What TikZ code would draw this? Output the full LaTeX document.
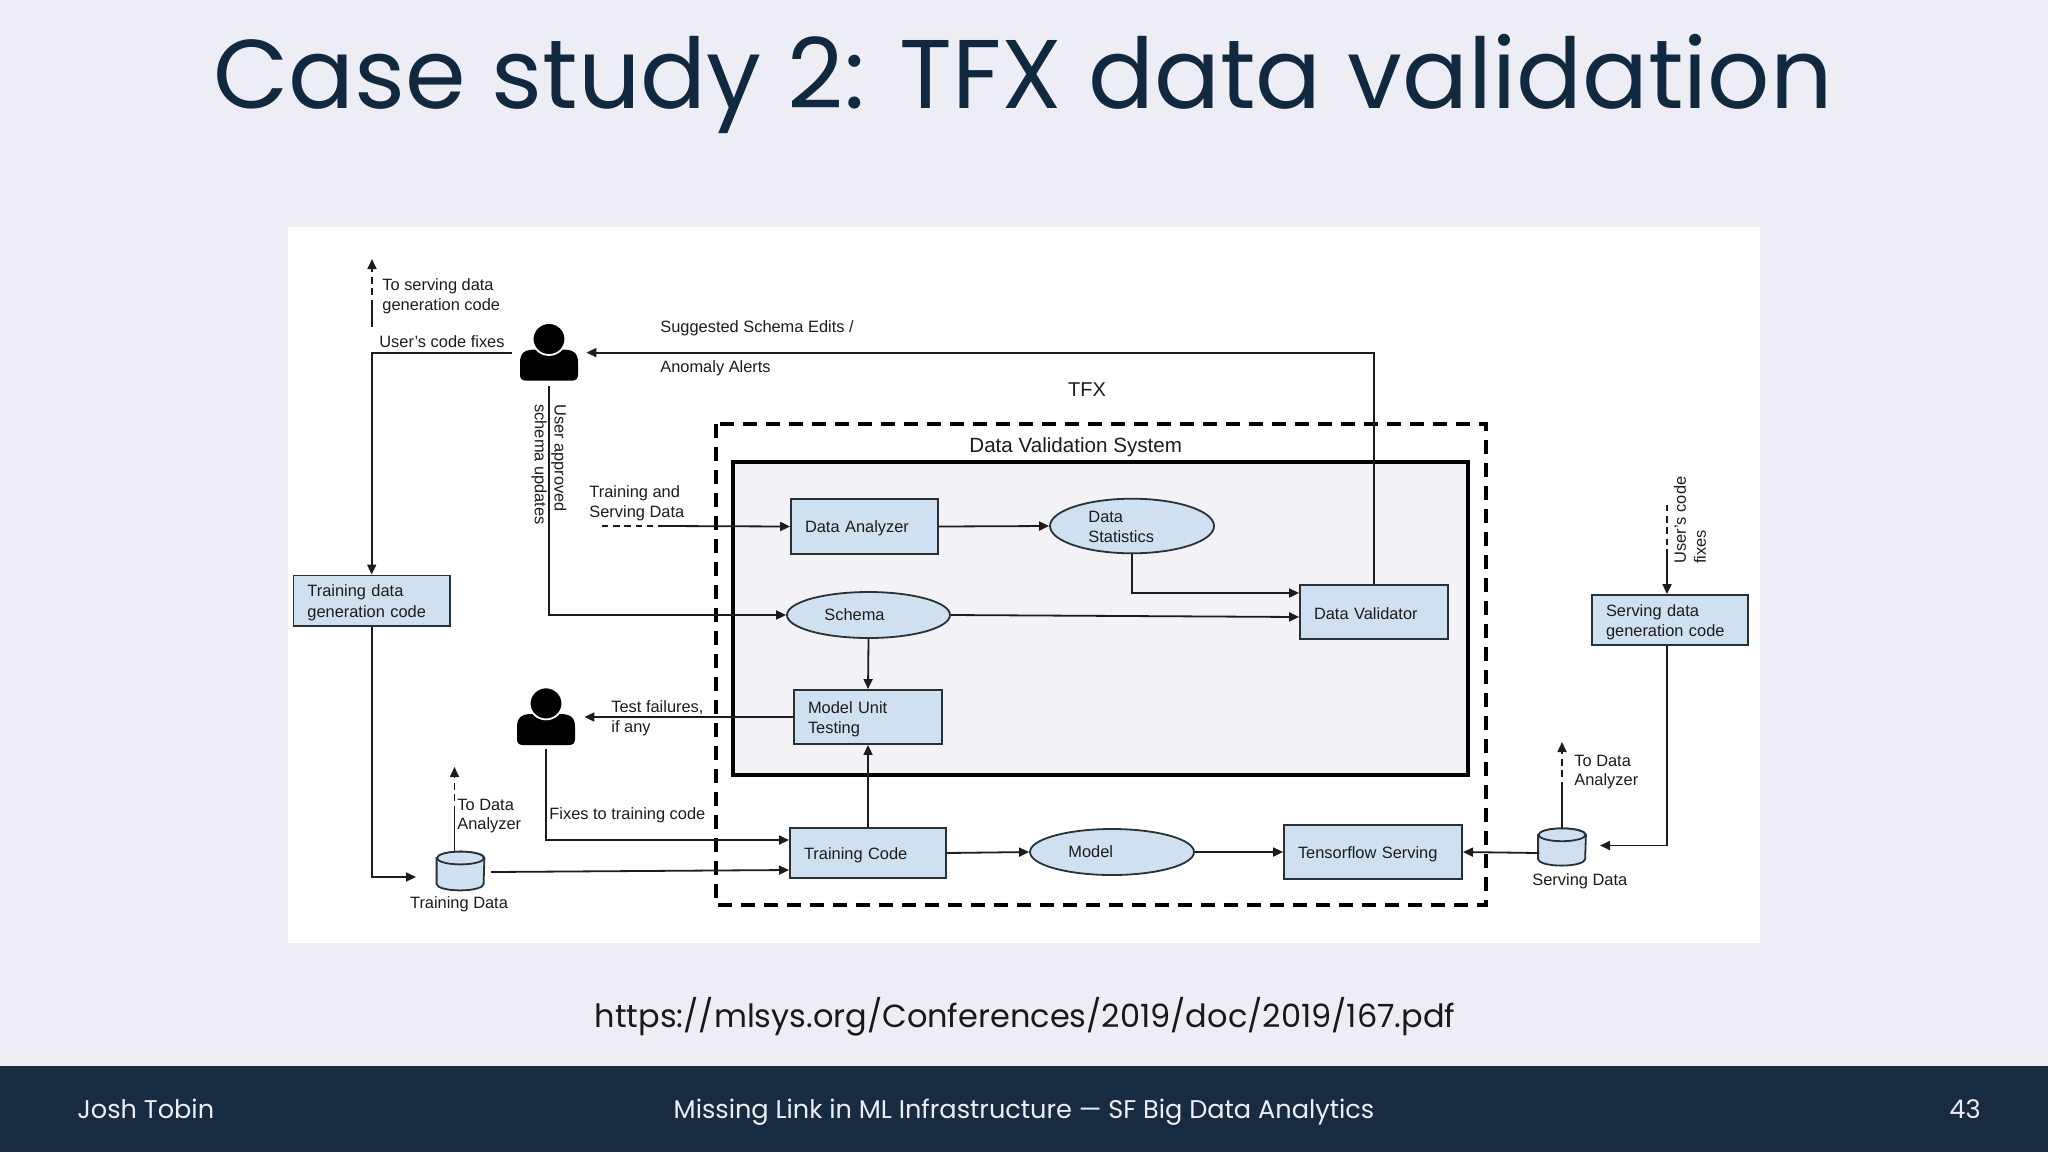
\documentclass[tikz,border=0pt]{standalone}
\usepackage{fontspec}
\setmainfont{Liberation Sans}
\newfontfamily\pop{Poppins}
\usetikzlibrary{arrows.meta,shapes.geometric}
\definecolor{slidebg}{HTML}{EDEEF5}
\definecolor{footbg}{HTML}{172B41}
\definecolor{titlec}{HTML}{10293F}
\definecolor{boxblue}{HTML}{CFE0F0}
\definecolor{edgec}{HTML}{263238}
\definecolor{inner}{HTML}{F3F2F6}
\definecolor{ink}{HTML}{1C1C1C}
\tikzset{
  x=0.5pt,y=-0.5pt,
  lab/.style={inner sep=0pt,anchor=west,align=left,text=ink,font=\fontsize{8.2}{9.9}\selectfont},
  box/.style n args={2}{draw=edgec,line width=.9pt,fill=boxblue,inner xsep=7pt,inner ysep=0pt,text=ink,
    align=left,text width=#1pt-14pt,minimum height=#2pt,font=\fontsize{8.2}{10.3}\selectfont,
    execute at begin node={\rule{0pt}{8pt}}},
  oval/.style n args={2}{ellipse,draw=edgec,line width=.9pt,fill=boxblue,inner sep=0pt,minimum width=#1pt,minimum height=#2pt},
  hold/.style n args={2}{inner sep=0pt,minimum width=#1pt,minimum height=#2pt},
  conn/.style={draw=ink,line width=.9pt},
  arr/.style={conn,-{Triangle[length=5pt,width=4.5pt]}},
  dsh/.style={dash pattern=on 3.2pt off 2.4pt},
  cylin/.style={draw=edgec,line width=.9pt,fill=boxblue},
}
\newcommand{\persona}[1]{%
  \begin{scope}[shift={(#1.center)}]
    \fill[black] (-23,28) .. controls (-27,28) and (-29,26) .. (-29,22) -- (-29,10)
      .. controls (-29,0) and (-24,-3) .. (-14,-3) -- (14,-3)
      .. controls (24,-3) and (29,0) .. (29,10) -- (29,22)
      .. controls (29,26) and (27,28) .. (23,28) -- cycle;
    \draw[white,line width=.9pt,fill=black] (0,-13.6) ellipse[x radius=8.2pt,y radius=8pt];
  \end{scope}}
\newcommand{\cylinderat}[2]{%
  \draw[cylin] ([yshift=-3.2pt]#1.north west) -- ([yshift=3.2pt]#1.south west)
    arc[start angle=180,end angle=360,x radius=#2pt,y radius=3.2pt]
    -- ([yshift=-3.2pt]#1.north east)
    arc[start angle=0,end angle=180,x radius=#2pt,y radius=3.2pt] -- cycle;
  \draw[cylin] ([yshift=-3.2pt]#1.north) ellipse[x radius=#2pt,y radius=3.2pt];}
\begin{document}
\begin{tikzpicture}
\useasboundingbox (0,0) rectangle (2048,1152);
\fill[slidebg] (0,0) rectangle (2048,1152);
\fill[footbg] (0,1066) rectangle (2048,1152);
\fill[white!99!slidebg] (288,227) rectangle (1760,943);
% slide text
\node[inner sep=0pt,text=titlec,font=\pop\fontsize{48.8}{58}\selectfont] (title) at (1023,84) {Case study 2: TFX data validation};
\node[inner sep=0pt,text=black!90,font=\pop\fontsize{16}{20}\selectfont] (url) at (1025,1017) {https://mlsys.org/Conferences/2019/doc/2019/167.pdf};
\node[inner sep=0pt,anchor=west,text=slidebg,font=\pop\fontsize{12.8}{16}\selectfont] (fl) at (77,1109) {Josh Tobin};
\node[inner sep=0pt,text=slidebg,font=\pop\fontsize{12.8}{16}\selectfont] (fc) at (1024,1112) {Missing Link in ML Infrastructure — SF Big Data Analytics};
\node[inner sep=0pt,anchor=east,text=slidebg,font=\pop\fontsize{12.8}{16}\selectfont] (fr) at (1981,1109) {43};
% system frames
\draw[fill=inner,draw=black,line width=2pt] (733,462) rectangle (1468,775);
\draw[black,line width=1.8pt,dash pattern=on 7pt off 4.5pt] (716,424) rectangle (1486,905);
% boxes
\node[box={78.3}{25.1}] (tdg) at (371.7,600.5) {Training data\\generation code};
\node[box={73.5}{27.5}] (da) at (864.5,526.5) {Data Analyzer};
\node[box={74}{27}] (dv) at (1374,612) {Data Validator};
\node[box={74}{27}] (mut) at (868,717) {Model Unit\\Testing};
\node[box={78}{25}] (tc) at (868,853) {Training Code};
\node[box={89}{27}] (ts) at (1373,852) {Tensorflow Serving};
\node[box={78}{25}] (sdg) at (1670,620) {Serving data\\generation code};
% ellipses
\node[oval={81.5}{23}] (sch) at (868.5,615) {};
\node[oval={82}{27.3}] (stat) at (1132,526) {};
\node[oval={82}{23}] (mod) at (1112,852) {};
\node[lab] (lsch) at (824,615) {Schema};
\node[lab] (lstat) at (1088,527) {Data\\Statistics};
\node[lab] (lmod) at (1068,852) {Model};
% people
\node[hold={37}{33.4}] (u1) at (549,352.6) {};
\node[hold={38}{32}] (u2) at (546,717) {};
\persona{u1}
\persona{u2}
% data stores
\node[hold={23.5}{19}] (tdb) at (460.5,871) {};
\node[hold={23.5}{18.2}] (sdb) at (1562,847) {};
\cylinderat{tdb}{11.75}
\cylinderat{sdb}{11.75}
% free ends
\coordinate (a1) at (372,327);
\coordinate (a2) at (372,306);
\coordinate (a3) at (372,259);
\coordinate (b1) at (602,526);
\coordinate (b2) at (664,526);
\coordinate (c1) at (416,877);
\coordinate (c2) at (491,872);
\coordinate (c3) at (789,870);
\coordinate (c4) at (789,840);
\coordinate (d1) at (454.5,812);
\coordinate (d2) at (454.5,767);
\coordinate (d3) at (454.5,852);
\coordinate (e1) at (1562,788);
\coordinate (e2) at (1562,742);
\coordinate (f1) at (1667,505);
\coordinate (f2) at (1667,549);
\coordinate (g1) at (1600,845.5);
\coordinate (g2) at (1539,853);
\coordinate (g3) at (1463,852);
% connectors
\draw[arr] (dv.north) |- (u1.east);
\draw[arr] (u1.west) -| (tdg.north);
\draw[conn] (a1) -- (a2);
\draw[arr,dsh] (a2) -- (a3);
\draw[arr] (u1.south) |- (sch.west);
\draw[arr] (tdg.south) |- (c1);
\draw[conn,dsh] (b1) -- (b2);
\draw[arr] (b2) -- (da.west);
\draw[arr] (da.east) -- (stat.west);
\draw[arr] (stat.south) |- (dv.west |- 0,593);
\draw[arr] (sch.east) -- (dv.west |- 0,617);
\draw[arr] (sch.south) -- (mut.north);
\draw[arr] (tc.north) -- (mut.south);
\draw[arr] (mut.west) -- (u2.east);
\draw[arr] (u2.south) |- (c4);
\draw[arr] (c2) -- (c3);
\draw[conn] (d3) -- (d1);
\draw[arr,dsh] (d1) -- (d2);
\draw[arr] (tc.east) -- (mod.west);
\draw[arr] (mod.east) -- (ts.west);
\draw[arr] (g2) -- (g3);
\draw[conn] (sdb.north) -- (e1);
\draw[arr,dsh] (e1) -- (e2);
\draw[conn,dsh] (f1) -- (f2);
\draw[arr] (f2) -- (f2 |- sdg.north);
\draw[arr] (sdg.south -| f1) |- (g1);
% labels
\node[lab] (l1) at (382,296) {To serving data\\generation code};
\node[lab] (l2) at (379,342) {User's code fixes};
\node[lab] (l3) at (660,328) {Suggested Schema Edits /};
\node[lab] (l4) at (660,368) {Anomaly Alerts};
\node[lab,rotate=-90] (l5) at (549,404) {User approved\\schema updates};
\node[lab] (l6) at (589,503) {Training and\\Serving Data};
\node[lab] (l7) at (611,718) {Test failures,\\if any};
\node[lab] (l8) at (549,815) {Fixes to training code};
\node[lab] (l9) at (457,816) {To Data\\Analyzer};
\node[lab,anchor=north] (l10) at (459,896) {Training Data};
\node[lab,anchor=west] (l11) at (1532,881) {Serving Data};
\node[lab] (l12) at (1574,772) {To Data\\Analyzer};
\node[lab,rotate=90] (l13) at (1690,564) {User's code\\fixes};
\node[inner sep=0pt,text=ink,font=\fontsize{10}{12}\selectfont] (tfx) at (1087,390) {TFX};
\node[inner sep=0pt,anchor=west,text=ink,font=\fontsize{10.3}{12}\selectfont] (dvs) at (969,447) {Data Validation System};
\end{tikzpicture}
\end{document}
